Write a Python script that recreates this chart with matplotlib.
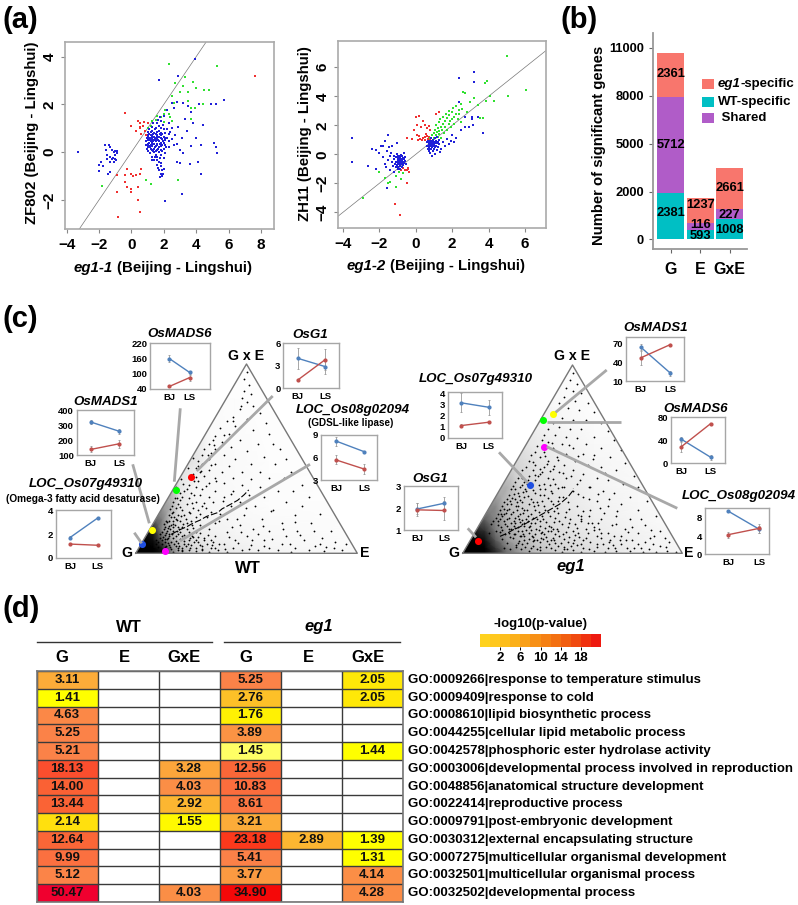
import numpy as np
import matplotlib
matplotlib.use("Agg")
import matplotlib.pyplot as plt
from matplotlib.colors import LinearSegmentedColormap, Normalize, ListedColormap
from matplotlib.patches import Rectangle, Polygon

plt.rcParams['font.family'] = ['Liberation Sans', 'DejaVu Sans']
W, H = 798, 905

# ---------- panel (a) points ----------
a1_blue = [(-3.3,0),(-2,-.55),(-2,-.8),(-1.9,-.4),(-1.75,-.6),(-1.65,.3),(-1.6,.1),(-1.5,-.1),(-1.45,-.9),(-1.4,.3),(-1.3,.2),(-1.3,-.2),(-1.3,-.4),(-1.2,-.3),(-1.2,.1),(-1.1,-.4),(-1.1,0),(-1,-.1),(-1,.05),(-1,-.3),(-.9,-.05),(-.9,.05),(-.95,-.35),(-1.5,-.3),(-1.3,-.85),(-1.15,-.25),
(.9,.3),(.9,.45),(.95,.6),(1,.2),(1,.35),(1,.5),(1,.7),(1,.85),(1.05,.05),(1.1,.25),(1.1,.4),(1.1,.6),(1.1,.75),(1.1,.95),(1.15,-.05),(1.2,.15),(1.2,.3),(1.2,.45),(1.2,.6),(1.2,.7),(1.2,.85),(1.25,1.05),(1.3,-.2),(1.3,.1),(1.3,.25),(1.3,.4),(1.3,.55),(1.3,.7),(1.3,.9),(1.35,1.2),(1.4,-.35),(1.4,0),(1.4,.15),(1.4,.35),(1.4,.5),(1.4,.65),(1.4,.8),(1.45,.95),(1.5,-.1),(1.5,.05),(1.5,.25),(1.5,.45),(1.5,.6),(1.5,.75),(1.5,1),(1.55,1.2),(1.6,-.55),(1.6,-.2),(1.6,.1),(1.6,.3),(1.6,.55),(1.6,.7),(1.6,.85),(1.65,1.35),(1.7,-.75),(1.7,-.4),(1.7,0),(1.7,.2),(1.7,.45),(1.7,.65),(1.7,.9),(1.7,1.1),(1.75,1.45),(1.8,-.9),(1.8,-.6),(1.8,-.1),(1.8,.1),(1.8,.4),(1.8,.6),(1.8,.8),(1.85,1),(1.85,1.3),(1.9,-1),(1.9,-.75),(1.9,.05),(1.9,.3),(1.9,.55),(1.9,.75),(1.95,1.15),(2,-.25),(2,.15),(2,.4),(2,.65),(2,.95),(2,1.5),(2.1,-.05),(2.1,.3),(2.1,.5),(2.1,.8),(2.2,.6),(2.2,.95),(2.2,1.75),(2.3,.2),(2.3,.45),(2.3,.75),(2.3,1.2),(2.4,.85),(2.5,.55),(2.5,1),(2.6,.3),(2.6,1.85),(2.7,.7),(2.8,-.4),(2.8,.35),(2.8,2.1),(2.9,3.2),(2.9,1.05),(3,.1),(3,-.45),(3.1,.6),(3.2,-.05),(3.3,1.4),(3.4,.9),(3.5,1.95),(3.6,-.5),(3.7,1.7),(3.7,.25),(3.8,1.2),(3.9,3.9),(4,.6),(4.1,-.4),(4.2,2),(4.3,-.9),(4.3,.3),(4.4,1.15),(5.1,.4),(5.2,.2),(5.3,-.05),(5.2,2),(5.7,2.2),(1.7,3),(2.1,-2.05),(3.1,-1.75),(4.9,2),(3.2,2.05),(2.5,2.05),
(.95,.15),(1.05,.3),(1.15,.5),(1.25,.35),(1.25,.65),(1.35,.05),(1.35,.45),(1.35,.75),(1.45,.2),(1.45,.55),(1.55,.35),(1.55,.65),(1.65,.15),(1.65,.5),(1.75,.35),(1.75,.75),(1.85,.25),(1.85,.7),(1.95,.45),(2.05,.6),(2.15,.2),(1.55,-.35),(1.65,-.65),(1.75,-.25),(1.85,-.45),(1.45,-.2),(1.25,-.35),(1.15,.2),(1.05,.65),(1.95,-.9),(2.0,-.7),(1.75,-1.05)]
a1_green = [(1,1.0),(1.2,1.1),(1.3,1.3),(1.5,1.35),(1.6,1.5),(1.8,1.45),(2,1.25),(2,1.6),(2.1,1.75),(2.3,1.6),(2.4,1.45),(2.5,1.3),(2.5,2.35),(2.7,2.9),(3,2.5),(3.2,2.75),(3.3,3.15),(3.5,2.5),(3.7,1.85),(3.8,2.95),(4,2.7),(4.5,2.6),(4.8,2.6),(5.3,3.6),(2.3,3.7),(3.5,2.15),(3.7,1.4),(3.9,1.85),(4.4,2),(2.9,-1.15),(1.2,-1.35),(.9,-1.15),(2.1,-2.05),(-1.8,-1.4),(2.6,2.05)]
a1_red = [(-.4,1.65),(0,1.1),(.3,.9),(.4,1.3),(.5,1.2),(.55,1),(.6,.75),(.7,1.1),(.8,1.25),(.85,.9),(1,1.2),(.9,.7),(.55,1.05),(7.6,3.2),(-.3,-.7),(-.4,-.95),(0,-.9),(.1,-1.0),(.3,-.95),(.6,-.7),(.5,-.9),(-.4,-1.25),(-.3,-1.45),(0,-1.55),(0,-1.65),(.4,-1.45),(-.9,-.95),(-.9,-1.65),(.4,-2),(.5,-2.5),(-.8,-2.7)]
a2_blue = [(-3.5,1.15),(-3.5,-.5),(-2.6,-.8),(-2.4,.4),(-2.2,.3),(-2.2,-1),(-2,.1),(-1.9,.6),(-1.8,-.2),(-1.8,.55),(-1.7,.9),(-1.7,-.7),(-1.65,-.9),(-1.6,.2),(-1.6,-2.3),(-1.5,-.4),(-1.5,1.3),(-1.45,.5),(-1.4,-.1),(-1.4,-1.1),(-1.35,.1),(-1.3,-.55),(-1.3,.6),(-1.25,-.8),(-1.2,-.3),(-1.2,-.1),(-1.2,-1.2),(-1.15,-.65),(-1.1,-.9),(-1.1,-.5),(-1.1,-.2),(-1.05,-.75),(-1.05,0),(-1.05,.75),(-1,-1),(-1,-.6),(-1,-.4),(-1,-.25),(-.95,-.85),(-.95,-.5),(-.95,-.1),(-.9,-.7),(-.9,-.55),(-.9,-.35),(-.9,-.15),(-.85,-1),(-.85,-.8),(-.85,-.6),(-.85,-.45),(-.85,-.2),(-.8,-.7),(-.8,-.5),(-.8,-.3),(-.8,-.05),(-.75,-.9),(-.75,-.6),(-.75,-.4),(-.75,-.15),(-.7,-.75),(-.7,-.5),(-.7,-.25),(-.65,-.6),(-.65,-.35),(-.65,.1),(-.6,-.45),(-.6,-.2),(-.55,-.65),
(.6,.6),(.6,.85),(.65,.95),(.65,.4),(.7,.7),(.7,.5),(.7,.25),(.75,.85),(.75,.6),(.75,.35),(.8,.95),(.8,.75),(.8,.55),(.8,.1),(.85,1.1),(.85,.8),(.85,.65),(.85,.4),(.9,.9),(.9,.7),(.9,.5),(.9,-.1),(.95,1),(.95,.75),(.95,.6),(.95,.25),(1,.85),(1,.65),(1,.4),(1.05,1.1),(1.05,.75),(1.05,.5),(1.05,.05),(1.1,.9),(1.1,.6),(1.15,1.2),(1.15,.75),(1.15,.3),(1.2,.85),(1.2,.5),(1.3,1),(1.3,.7),(1.35,.15),(1.4,.4),(1.5,.85),(1.6,.55),(1.7,1.05),(1.8,.7),(1.95,.95),(2,1.3),(2.1,.85),(2.2,1.15),(2.4,3.6),(2.5,1.65),(2.7,2.6),(2.9,1.9),(3.1,2.6),(3.2,5.65),(2.4,5.25),(3.2,5),(3.1,2.4),(3.15,2.05),(3.4,2.6),(3.7,1.45),(2.7,1.9)]
a2_green = [(-2.9,-3),(-2,-1.2),(-1.7,-1.6),(-1.5,-2),(-1.4,-1.9),(-1.1,-2.25),(-1.1,-1.5),(-.9,-1.2),(-.8,-1.7),(-.7,-1.3),(.8,1.1),(.9,1.3),(1,1.5),(1,1.1),(1.05,1.7),(1.1,1.3),(1.1,2),(1.15,1.55),(1.2,1.8),(1.2,1.2),(1.25,2.2),(1.3,1.6),(1.3,1.4),(1.35,2.4),(1.4,1.9),(1.4,1.15),(1.45,1.7),(1.5,2.1),(1.5,2.6),(1.55,1.5),(1.6,2.3),(1.6,1.9),(1.65,2.8),(1.7,2.5),(1.7,1.7),(1.8,2.1),(1.8,3),(1.85,2.7),(1.9,2.3),(1.95,1.9),(2,2.9),(2,2.45),(2.05,3.2),(2.1,2.6),(2.1,2.1),(2.2,2.8),(2.2,3.3),(2.3,2.4),(2.35,3.05),(2.4,2.75),(2.5,2.25),(2.5,3.5),(2.55,3.1),(2.6,4.3),(2.7,4.2),(2.8,2.9),(3,3.6),(3.2,3.9),(3.4,3.4),(3.5,2.5),(3.7,2.5),(3.85,3.7),(3.9,5.05),(4.1,4),(4.3,3.7),(5,6.8),(5.05,4),(6.05,4.4),(3.8,4.9)]
a2_red = [(0,2.6),(.05,2.05),(.2,2.65),(.3,1.9),(.4,2.3),(.5,2),(.6,1.8),(.7,1.95),(.8,1.7),(-.5,1.1),(-.2,1.05),(-.1,1.65),(.05,1.3),(.1,1),(.2,1.25),(.25,1.05),(.35,1),(.4,1.15),(.5,1.2),(.5,1),(.6,1.25),(.65,1.05),(.75,1.2),(.8,1.05),(.55,1.4),(1.1,2.8),(1.3,2.95),(-.9,-1),(-.8,-1.1),(-.7,-.95),(-.6,-1.05),(-.5,-1.1),(-.45,-.95),(-.4,-1),(-.35,-1.2),(-.5,-1.95),(-1.15,-3.4),(-.85,-4.2)]

# ---------- panel (b) ----------
bar_groups = ['G', 'E', 'GxE']
bar_teal = [0.965, 0.20, 0.42]
bar_purple = [2.00, 0.14, 0.21]
bar_red = [0.93, 0.52, 0.87]
lab_teal = ['2381', '593', '1008']
lab_purple = ['5712', '116', '227']
lab_red = ['2361', '1237', '2661']
lab_teal_y = [0.55, 0.06, 0.20]
lab_purple_y = [1.97, 0.30, 0.51]
lab_red_y = [3.46, 0.72, 1.08]
bar_tick_labels = ['0', '2000', '5000', '8000', '11000']

# ---------- panel (c) triangle dots (position in the unit triangle) ----------
wt_dots = [(.5,.96),(.49,.92),(.51,.89),(.49,.86),(.52,.84),(.5,.8),(.48,.82),(.53,.78),(.47,.76),(.56,.74),(.44,.72),(.5,.71),(.41,.7),(.59,.69),(.45,.67),(.38,.66),(.53,.65),(.42,.63),(.36,.62),(.6,.63),(.47,.6),(.35,.6),(.39,.59),(.33,.58),(.55,.58),(.62,.58),(.43,.56),(.36,.55),(.31,.55),(.34,.53),(.5,.54),(.65,.55),(.4,.52),(.3,.52),(.33,.5),(.45,.5),(.58,.51),(.68,.5),(.28,.49),(.36,.47),(.3,.47),(.52,.47),(.42,.46),(.63,.47),(.27,.45),(.33,.44),(.29,.43),(.39,.43),(.48,.43),(.56,.43),(.7,.43),(.26,.42),(.31,.41),(.36,.4),(.44,.4),(.25,.4),(.6,.4),(.52,.39),(.67,.4),(.28,.38),(.33,.37),(.4,.37),(.48,.36),(.75,.36),(.24,.36),(.27,.35),(.56,.35),(.3,.34),(.36,.33),(.44,.33),(.64,.33),(.71,.33),(.22,.33),(.25,.32),(.51,.31),(.29,.31),(.21,.3),(.33,.3),(.4,.3),(.24,.29),(.58,.3),(.78,.3),(.2,.28),(.27,.27),(.35,.27),(.47,.27),(.68,.27),(.23,.26),(.3,.25),(.19,.26),(.43,.25),(.54,.25),(.75,.25),(.18,.24),(.26,.24),(.21,.23),(.34,.22),(.62,.23),(.38,.21),(.24,.22),(.17,.22),(.29,.21),(.19,.2),(.49,.2),(.83,.21),(.72,.2),(.22,.2),(.16,.19),(.27,.19),(.32,.19),(.57,.18),(.41,.18),(.18,.18),(.2,.17),(.25,.17),(.15,.17),(.36,.16),(.66,.16),(.79,.16),(.23,.16),(.29,.15),(.17,.155),(.47,.15),(.13,.14),(.19,.14),(.15,.145),(.21,.14),(.26,.135),(.33,.13),(.53,.13),(.88,.12),(.73,.12),(.6,.12),(.14,.12),(.17,.12),(.12,.115),(.2,.115),(.24,.11),(.41,.11),(.29,.105),(.11,.1),(.15,.1),(.19,.1),(.13,.095),(.22,.095),(.36,.09),(.68,.09),(.84,.08),(.95,.05),(.5,.09),(.26,.085),(.17,.08),(.31,.08),(.11,.08),(.14,.075),(.2,.075),(.24,.07),(.45,.07),(.58,.07),(.76,.07),(.9,.06),(.28,.06),(.13,.06),(.16,.06),(.19,.055),(.35,.06),(.4,.05),(.22,.05),(.25,.045),(.15,.045),(.66,.05),(.52,.045),(.3,.04),(.18,.04),(.81,.04),(.86,.035),(.13,.035),(.21,.03),(.34,.03),(.27,.03),(.44,.03),(.6,.03),(.72,.03),(.16,.025),(.24,.02),(.19,.02),(.3,.015),(.37,.015),(.14,.015),(.48,.015),(.55,.015),(.64,.015),(.78,.015),(.93,.015),(.21,.01),(.27,.01),(.41,.008),(.33,.008),(.7,.008),(.85,.01),(.17,.008),(.12,.02),(.12,.05),(.1,.06),(.09,.07),(.1,.035),(.09,.05),
(.612,.223),(.457,.182),(.393,.277),(.316,.353),(.274,.403),(.232,.338),(.187,.293),(.253,.267),(.318,.241),(.377,.173),(.433,.137),(.552,.102),(.663,.127),(.721,.163),(.804,.118),(.497,.241),(.428,.312),(.361,.383),(.296,.437),(.341,.467),(.263,.307),(.202,.243),(.168,.27),(.163,.213),(.178,.147),(.231,.128),(.273,.113),(.338,.069),(.378,.047),(.423,.084),(.476,.112),(.523,.068),(.574,.142),(.614,.076),(.696,.051),(.742,.098),(.832,.049),(.897,.028),(.191,.028),(.228,.037),(.262,.058),(.297,.022),(.322,.051),(.358,.029),(.403,.023),(.463,.052),(.513,.021),(.577,.038),(.147,.082),(.163,.103),(.207,.092),(.243,.083),(.283,.084),(.133,.076),(.153,.127),(.187,.119),(.213,.157),(.252,.148),(.142,.163),(.127,.127),(.167,.168),(.157,.235),(.198,.318),(.214,.368),(.262,.384),(.283,.461),(.327,.517),(.352,.574),(.398,.624),(.437,.7),(.474,.78),
(.127,.018),(.136,.041),(.148,.057),(.157,.035),(.172,.049),(.184,.067),(.196,.041),(.207,.017),(.218,.064),(.236,.051),(.247,.028),(.256,.093),(.271,.072),(.291,.044),(.308,.068),(.327,.097),(.346,.046),(.118,.068),(.124,.087),(.138,.108),(.152,.091),(.169,.137),(.183,.089),(.196,.128),(.144,.133),(.159,.152),(.174,.193),(.188,.176),(.204,.197),(.229,.182),(.243,.213),(.283,.229),(.309,.267),(.136,.173),(.128,.154),(.149,.203),(.163,.248),(.177,.293),(.183,.352),(.206,.394),(.238,.452),(.258,.501)]
wt_line = [(.16,.1),(.2,.125),(.23,.14),(.26,.16),(.29,.175),(.32,.195),(.37,.215),(.39,.235),(.43,.26),(.46,.28),(.47,.29),(.49,.31),(.51,.335)]
wt_grid_x = [0,.04,.08,.12,.16,.2,.26,.34,.45,.6,1]
wt_grid_y = [0,.03,.07,.12,.18,.25,.35,.5,1]
wt_grid = [[1,1,1,.95,.6,.42,.28,.2,.16,.1,.05],
           [1,1,1,.9,.55,.38,.25,.17,.13,.08,.04],
           [1,1,.95,.72,.45,.3,.2,.14,.1,.06,.03],
           [.9,.95,.9,.55,.36,.24,.16,.11,.08,.05,.02],
           [.7,.7,.7,.58,.32,.2,.12,.08,.06,.04,.02],
           [.5,.5,.5,.5,.42,.18,.1,.07,.05,.03,.02],
           [.4,.4,.4,.4,.4,.18,.08,.06,.04,.03,.01],
           [.2,.2,.2,.2,.2,.2,.2,.06,.04,.02,.01],
           [.01,.01,.01,.01,.01,.01,.01,.01,.01,.01,.01]]
eg_dots = [(.5,.96),(.49,.92),(.52,.9),(.47,.88),(.5,.86),(.54,.85),(.46,.83),(.51,.81),(.44,.8),(.57,.8),(.48,.77),(.53,.76),(.42,.75),(.6,.75),(.45,.72),(.5,.71),(.56,.71),(.41,.69),(.63,.69),(.44,.67),(.39,.66),(.49,.66),(.54,.66),(.66,.65),(.37,.63),(.42,.63),(.6,.62),(.47,.62),(.52,.61),(.36,.6),(.39,.59),(.69,.6),(.45,.58),(.56,.58),(.34,.57),(.41,.56),(.63,.56),(.5,.56),(.33,.54),(.37,.54),(.47,.53),(.72,.55),(.55,.53),(.31,.52),(.43,.51),(.6,.52),(.35,.51),(.67,.51),(.3,.49),(.39,.49),(.51,.49),(.33,.47),(.46,.47),(.74,.48),(.57,.47),(.29,.46),(.37,.46),(.41,.45),(.63,.46),(.27,.44),(.32,.44),(.5,.44),(.7,.44),(.44,.43),(.26,.42),(.35,.42),(.55,.42),(.3,.41),(.39,.4),(.78,.41),(.47,.4),(.25,.4),(.61,.4),(.33,.39),(.66,.39),(.24,.38),(.28,.38),(.42,.37),(.52,.37),(.37,.37),(.73,.37),(.31,.36),(.23,.36),(.26,.35),(.45,.35),(.58,.35),(.35,.34),(.8,.35),(.22,.34),(.29,.33),(.4,.33),(.64,.33),(.5,.33),(.25,.32),(.33,.32),(.21,.31),(.69,.32),(.37,.31),(.28,.3),(.44,.3),(.55,.3),(.76,.3),(.2,.29),(.31,.29),(.24,.29),(.4,.28),(.61,.28),(.84,.28),(.19,.27),(.27,.27),(.34,.27),(.48,.27),(.22,.26),(.3,.26),(.37,.25),(.72,.26),(.18,.25),(.25,.25),(.52,.25),(.66,.25),(.43,.24),(.2,.23),(.28,.23),(.33,.23),(.17,.23),(.58,.23),(.8,.23),(.39,.22),(.23,.22),(.47,.22),(.16,.21),(.26,.21),(.19,.21),(.31,.21),(.88,.2),(.54,.2),(.7,.2),(.36,.2),(.15,.19),(.21,.19),(.24,.19),(.42,.19),(.29,.18),(.17,.18),(.63,.18),(.34,.18),(.49,.18),(.76,.18),(.14,.17),(.19,.17),(.26,.165),(.38,.165),(.22,.16),(.31,.16),(.57,.16),(.13,.155),(.16,.15),(.45,.155),(.83,.15),(.68,.15),(.35,.145),(.28,.145),(.2,.145),(.24,.135),(.52,.135),(.41,.13),(.62,.13),(.9,.12),(.74,.13),(.31,.125),(.18,.125),(.15,.12),(.27,.12),(.36,.115),(.47,.115),(.57,.11),(.66,.11),(.8,.11),(.21,.11),(.12,.11),(.24,.1),(.33,.1),(.42,.1),(.51,.095),(.72,.09),(.87,.09),(.61,.09),(.28,.09),(.38,.085),(.94,.06),(.3,.075),(.46,.075),(.55,.07),(.67,.07),(.77,.07),(.83,.06),(.35,.06),(.42,.055),(.5,.055),(.61,.05),(.72,.05),(.9,.04),(.27,.05),(.32,.04),(.38,.035),(.46,.035),(.55,.03),(.66,.03),(.78,.03),(.85,.025),(.42,.02),(.5,.015),(.6,.012),(.7,.012),(.76,.012),(.93,.012),(.35,.015),(.3,.012),(.45,.008),(.54,.006),(.65,.006),(.82,.006),(.88,.006),(.97,.006),(.25,.2),(.27,.175),(.22,.13),(.3,.14),(.33,.16),(.25,.14),(.26,.09),(.32,.085),(.34,.07),(.37,.1),(.4,.07),(.44,.09),(.48,.06),(.53,.085),(.58,.06),(.63,.08),(.69,.09),(.4,.14),(.44,.17),(.48,.14),(.54,.17),(.6,.14),(.39,.12),(.43,.13),(.5,.12),(.56,.13),
(.623,.243),(.574,.287),(.523,.317),(.463,.353),(.413,.392),(.362,.432),(.318,.487),(.283,.343),(.232,.317),(.353,.308),(.413,.262),(.483,.233),(.538,.183),(.597,.123),(.643,.213),(.698,.158),(.753,.113),(.812,.183),(.857,.123),(.923,.08),(.433,.215),(.376,.228),(.323,.252),(.262,.283),(.217,.277),(.187,.233),(.173,.207),(.233,.173),(.297,.197),(.353,.172),(.417,.164),(.468,.193),(.513,.158),(.562,.082),(.613,.033),(.684,.046),(.742,.071),(.797,.052),(.866,.047),(.927,.033),(.283,.032),(.337,.022),(.393,.052),(.433,.038),(.476,.021),(.522,.042),(.573,.021),(.637,.052),(.692,.027),(.747,.029),(.813,.029),(.243,.043),(.257,.067),(.293,.054),(.318,.063),(.356,.082),(.383,.063),(.412,.083),(.457,.103),(.486,.087),(.527,.109),(.273,.103),(.302,.107),(.347,.123),(.391,.147),(.436,.117),(.483,.161),(.523,.203),(.573,.197),(.618,.161),(.232,.147),(.268,.154),(.297,.173),(.202,.183),(.213,.233),(.243,.253),(.273,.213),(.258,.304),(.293,.37),(.272,.398),(.343,.412),(.398,.437),(.433,.498),(.375,.516),(.406,.587),(.483,.577),(.526,.518),(.593,.501),(.647,.427),
(.188,.028),(.204,.056),(.216,.023),(.229,.081),(.241,.031),(.253,.053),(.267,.024),(.278,.072),(.312,.028),(.326,.068),(.352,.036),(.367,.074),(.403,.027),(.418,.069),(.447,.054),(.463,.021),(.491,.038),(.508,.071),(.537,.052),(.181,.077),(.193,.103),(.214,.089),(.233,.103),(.252,.118),(.266,.091),(.289,.122),(.314,.092),(.332,.128),(.358,.106),(.376,.137),(.403,.117),(.168,.113),(.176,.138),(.193,.157),(.212,.131),(.238,.163),(.257,.184),(.278,.163),(.307,.146),(.322,.188),(.348,.221),(.366,.183),(.398,.199),(.418,.226),(.162,.172),(.178,.197),(.198,.213),(.222,.207),(.247,.228),(.268,.243),(.292,.231),(.318,.274),(.342,.257),(.361,.277),(.387,.294),(.408,.321),(.432,.277),(.457,.298),(.203,.261),(.226,.296),(.247,.274),(.274,.323),(.296,.302),(.322,.337),(.347,.362),(.373,.341),(.398,.363),(.432,.347),(.238,.342),(.268,.362),(.298,.391),(.327,.418),(.353,.447),(.383,.472),(.418,.463),(.456,.427),(.492,.411),(.533,.388),(.574,.352),(.618,.317),(.667,.287),(.703,.226),(.632,.108),(.665,.062),(.716,.071),(.77,.138),(.852,.081),(.589,.163),(.548,.222)]
eg_line = [(.17,.09),(.2,.105),(.23,.125),(.26,.14),(.29,.16),(.32,.18),(.35,.2),(.38,.22),(.41,.24),(.44,.26),(.46,.28),(.48,.3),(.5,.33),(.504,.345)]
eg_grid_x = [0,.05,.1,.15,.2,.26,.34,.45,.6,.8,1]
eg_grid_y = [0,.03,.07,.12,.18,.25,.35,.5,.7,1]
eg_grid = [[1,1,1,.88,.65,.5,.38,.3,.22,.14,.07],
           [1,1,1,.82,.6,.45,.34,.26,.2,.12,.07],
           [1,1,.95,.72,.5,.4,.3,.24,.18,.11,.05],
           [.9,.9,.85,.6,.45,.36,.28,.22,.15,.1,.04],
           [.7,.7,.7,.55,.4,.32,.26,.2,.14,.08,.03],
           [.55,.55,.55,.55,.37,.3,.24,.18,.12,.07,.03],
           [.42,.42,.42,.42,.42,.28,.22,.17,.1,.05,.02],
           [.25,.25,.25,.25,.25,.25,.18,.14,.08,.04,.02],
           [.12,.12,.12,.12,.12,.12,.12,.07,.03,.02,.01],
           [.02,.02,.02,.02,.02,.02,.02,.02,.02,.02,.02]]
wt_marks = {'red': (.248,.405), 'lime': (.182,.335), 'yellow': (.074,.121), '#1f4fe0': (.03,.049), 'magenta': (.132,.014)}
eg_marks = {'yellow': (.413,.742), 'lime': (.364,.706), 'magenta': (.372,.566), '#1f4fe0': (.305,.363), 'red': (.068,.067)}

# insets: blue values, blue errs, red values, red errs
in_names = ['OsMADS6','OsG1','OsMADS1','LOC_Os07g49310','LOC_Os08g02094','OsMADS1','OsMADS6','LOC_Os07g49310','OsG1','LOC_Os08g02094']
in_blue = [[160,105],[4,2.9],[320,258],[1.7,3.35],[8.2,6.8],[64,23],[42,10],[3.15,2.75],[1.97,2.23],[9.5,5.5]]
in_blue_err = [[14,5],[1.4,1],[15,18],[.15,.05],[.6,.05],[5,4],[4,4],[.85,.7],[.25,.28],[.1,.8]]
in_red = [[50,85],[1.1,3.8],[137,175],[1.15,1.05],[5.7,4.5],[47,68],[28,69],[1.1,1.4],[1.93,1.9],[4.3,5.7]]
in_red_err = [[2,12],[.1,1.4],[20,25],[.1,.1],[.6,.6],[11,1],[9,1],[.15,.05],[.3,.45],[.7,1]]
in_ticks = [[40,100,160,220],[0,3,6],[100,200,300,400],[0,2,4],[3,6,9],[10,40,70],[0,40,80],[0,1,2,3,4],[1,2,3],[0,4,8]]

# ---------- panel (d) ----------
go_labels = ['GO:0009266|response to temperature stimulus','GO:0009409|response to cold','GO:0008610|lipid biosynthetic process','GO:0044255|cellular lipid metabolic process','GO:0042578|phosphoric ester hydrolase activity','GO:0003006|developmental process involved in reproduction','GO:0048856|anatomical structure development','GO:0022414|reproductive process','GO:0009791|post-embryonic development','GO:0030312|external encapsulating structure','GO:0007275|multicellular organismal development','GO:0032501|multicellular organismal process','GO:0032502|developmental process']
wt_G = [3.11,1.41,4.63,5.25,5.21,18.13,14.00,13.44,2.14,12.64,9.99,5.12,50.47]
wt_E = [np.nan]*13
wt_GxE = [np.nan,np.nan,np.nan,np.nan,np.nan,3.28,4.03,2.92,1.55,np.nan,np.nan,np.nan,4.03]
eg_G = [5.25,2.76,1.76,3.89,1.45,12.56,10.83,8.61,3.21,23.18,5.41,3.77,34.90]
eg_E = [np.nan]*9+[2.89]+[np.nan]*3
eg_GxE = [2.05,2.05,np.nan,np.nan,1.44,np.nan,np.nan,np.nan,np.nan,1.39,1.31,4.14,4.28]
heat_anchor_vals = [1.3,1.6,2.14,3.0,4.0,5.2,10,13,18,23,35,51]
heat_anchor_cols = ['#FFFF00','#FFF500','#FFDD10','#FCAE38','#FB8E46','#FB8248','#FB7040','#FA6536','#FB4E2E','#FB3A1C','#F50808','#F00030']
cbar_edges = [-2,0,2,4,6,8,10,12,14,16,18,20,22]
cbar_ticks = [2,6,10,14,18]
cbar_cols = ['#FFD21E','#FFC81E','#FDBE1C','#FBB01A','#F9A018','#F79016','#F58014','#F37012','#F15E10','#F04A10','#F0320F','#EE1A10']

fig = plt.figure(figsize=(W/100, H/100), dpi=100)

def axpx(x0, y0, x1, y1, **kw):
    return fig.add_axes([x0/W, 1-y1/H, (x1-x0)/W, (y1-y0)/H], **kw)

def xy(p):
    a = np.array(p, float)
    return a[:, 0], a[:, 1]

ov = axpx(0, 0, W, H, zorder=5)
ov.set_xlim(0, W); ov.set_ylim(H, 0); ov.axis('off'); ov.patch.set_alpha(0)

for t, x, y in [('(a)',2,28),('(b)',560,28),('(c)',3,327),('(d)',2,617)]:
    ov.text(x, y, t, fontsize=21, fontweight='bold', ha='left', va='baseline')

# panel (a)
def scatter_panel(box, xlim, ylim, xticks, yticks, blue, green, red):
    ax = axpx(*box)
    ax.set_xlim(*xlim); ax.set_ylim(*ylim)
    for n, c, pts in [(1,'#F03030',red),(2,'#30E030',green),(3,'#2020D8',blue)]:
        px, py = xy(pts)
        ax.scatter(px, py, s=3.2, c=c, marker='s', linewidths=0, zorder=n+1)
    ax.plot(xlim, xlim, color='#777777', lw=0.5, zorder=1)
    ax.set_xticks(xticks); ax.set_yticks(yticks)
    ax.tick_params(length=3, width=0.8, color='#888888', labelsize=11, pad=3)
    for l in ax.get_xticklabels()+ax.get_yticklabels():
        l.set_fontweight('bold')
    for l in ax.get_yticklabels():
        l.set_rotation(90); l.set_va('center')
    for s in ax.spines.values():
        s.set_color('#AAAAAA'); s.set_linewidth(1.2)
    return ax

scatter_panel((65,42,274,229.3), (-4.1,8.8), (-3.23,4.61), [-4,-2,0,2,4,6,8], [-2,0,2,4], a1_blue, a1_green, a1_red)
scatter_panel((338,40.7,546,228.3), (-4.27,7.15), (-5.1,7.83), [-4,-2,0,2,4,6], [-4,-2,0,2,4,6], a2_blue, a2_green, a2_red)
ov.text(74, 272, 'eg1-1', fontsize=10.8, fontweight='bold', style='italic', va='baseline')
ov.text(117, 272, '(Beijing - Lingshui)', fontsize=10.8, fontweight='bold', va='baseline')
ov.text(347, 270, 'eg1-2', fontsize=10.8, fontweight='bold', style='italic', va='baseline')
ov.text(390, 270, '(Beijing - Lingshui)', fontsize=10.8, fontweight='bold', va='baseline')
ov.text(32, 133, 'ZF802 (Beijing - Lingshui)', fontsize=10.8, fontweight='bold', rotation=90, ha='center', va='center')
ov.text(305, 134, 'ZH11 (Beijing - Lingshui)', fontsize=10.8, fontweight='bold', rotation=90, ha='center', va='center')

# panel (b)
b = axpx(653, 33, 747, 249)
xs = np.arange(3)
b.bar(xs, bar_teal, 0.92, color='#00BFC4')
b.bar(xs, bar_purple, 0.92, bottom=bar_teal, color='#B05CC8')
tops = np.add(bar_teal, bar_purple)
b.bar(xs, bar_red, 0.92, bottom=tops, color='#F8766D')
for i in xs:
    b.text(i, lab_teal_y[i], lab_teal[i], ha='center', va='center', fontsize=9.3, fontweight='bold')
    b.text(i, lab_purple_y[i], lab_purple[i], ha='center', va='center', fontsize=9.3, fontweight='bold')
    b.text(i, lab_red_y[i], lab_red[i], ha='center', va='center', fontsize=9.3, fontweight='bold')
b.set_xlim(-0.6, 2.59)
b.set_ylim(-29/144, (719-98)/144)
b.set_xticks(xs); b.set_xticklabels(bar_groups, fontsize=11.5, fontweight='bold')
b.set_yticks(range(5)); b.set_yticklabels(bar_tick_labels, fontsize=9.3, fontweight='bold')
b.tick_params(length=3, width=0.8, color='#666666')
b.tick_params(axis='x', pad=6)
for s in ['top','right']:
    b.spines[s].set_visible(False)
for s in ['left','bottom']:
    b.spines[s].set_color('#999999'); b.spines[s].set_linewidth(1.3)
ov.text(599, 145, 'Number of significant genes', fontsize=10.7, fontweight='bold', rotation=90, ha='center', va='center')
for y0, col, lab, kw in [(79,'#F8766D','eg1','italic'),(97,'#00BFC4','WT-specific','normal'),(113,'#B05CC8',' Shared','normal')]:
    ov.add_patch(Rectangle((702,y0),12,10,color=col,lw=0))
    ov.text(718, y0+5, lab, fontsize=9.5, fontweight='bold', style=kw, va='center')
ov.text(740.7, 84, '-specific', fontsize=9.5, fontweight='bold', va='center')

# panel (c)
def triangle(box, dots, line, gx, gy, grid):
    ax = axpx(*box)
    ax.set_xlim(0,1); ax.set_ylim(0,1); ax.axis('off'); ax.patch.set_alpha(0)
    mesh = ax.pcolormesh(gx, gy, np.array(grid), cmap='Greys', vmin=0, vmax=1, shading='gouraud')
    mesh.set_clip_path(Polygon([(0,0),(1,0),(.5,1)], closed=True, transform=ax.transData))
    px, py = xy(dots)
    ax.scatter(px, py, s=1.7, c='black', linewidths=0, clip_on=False)
    lx, ly = xy(line)
    ax.plot(lx, ly, color='black', lw=.8, ls=(0,(6,2)))
    ax.plot([0,1,.5,0],[0,0,1,0], color='#777777', lw=1, clip_on=False)
    return ax

tl = triangle((135.7,364,357.3,553.3), wt_dots, wt_line, wt_grid_x, wt_grid_y, wt_grid)
tr = triangle((462.7,365,682.3,553.3), eg_dots, eg_line, eg_grid_x, eg_grid_y, eg_grid)

leaders = [[(180.3,408.3),(174.3,481.7)],[(272.7,396),(196.7,471)],[(132.7,464.3),(149.3,523.3)],[(134.3,532.7),(141.7,543.3)],[(310,464.3),(180,541)],
           [(606.7,370),(555.7,412.3)],[(620.7,421.7),(547.3,421.7)],[(677.3,508.3),(546.7,446.7)],[(499,452.3),(528.3,483.3)],[(467.7,528.3),(476,537.3)]]
for seg in leaders:
    sx, sy = xy(seg)
    ov.plot(sx, sy, color='#A8A8A8', lw=2, solid_capstyle='butt', zorder=2)

for ax, marks in [(tl, wt_marks), (tr, eg_marks)]:
    for c, (mx, my) in marks.items():
        ax.scatter([mx],[my], s=26, c=c, linewidths=0, zorder=6, clip_on=False)

for x, y, s, sz, st in [(246.5,356,'G x E',10.2,'normal'),(127,553,'G',10.2,'normal'),(365,553,'E',10.2,'normal'),(247.5,568,'WT',12,'normal'),
                     (572.3,356,'G x E',10.2,'normal'),(454.3,553,'G',10.2,'normal'),(689,553,'E',10.2,'normal'),(571,566,'eg1',12,'italic')]:
    ov.text(x, y, s, fontsize=sz, fontweight='bold', style=st, ha='center', va='center')

boxes = [(150,343.3,210.3,389),(283.3,343.3,339.3,388.3),(76.7,410,134,455),(55.7,510.3,111.3,557.7),(320.7,435,377.3,480.3),
         (625.7,337.3,684.3,381.3),(670.7,417.3,725.3,463),(448,392.3,501.7,438.3),(404,486.3,457.7,530.3),(705,508.3,769.3,554.3)]
tick_px = [(169.3,189.7),(297.7,325),(90.7,119.3),(70,97.7),(336,364),(640.7,670.3),(681,710.7),(461.3,488.7),(417.3,444.3),(728,759.3)]
ylims = [(40,220),(0,6),(100,400),(0,4),(3,9),(10,79.5),(0,80),(-.05,4.1),(1,3),(0,10.1)]
title_xy = [(180,333.7),(310,335),(106,401.7),(86,484),(353,410),(655.7,328),(696,409.3),(476,379),(430.7,479.3),(739.3,496)]
for i in range(10):
    ax = axpx(*boxes[i])
    a, c = tick_px[i]
    x0, x1 = boxes[i][0], boxes[i][2]
    ax.set_xlim((x0-a)/(c-a), (x1-a)/(c-a))
    ax.set_ylim(*ylims[i])
    ax.errorbar([0,1], in_blue[i], yerr=in_blue_err[i], color='#4F81BD', ecolor='#999999', elinewidth=.6, capsize=1, capthick=.6, lw=1, marker='o', ms=2)
    ax.errorbar([0,1], in_red[i], yerr=in_red_err[i], color='#C0504D', ecolor='#999999', elinewidth=.6, capsize=1, capthick=.6, lw=1, marker='o', ms=2)
    ax.set_xticks([0,1]); ax.set_xticklabels(['BJ','LS'], fontsize=6.8, fontweight='bold')
    ax.set_yticks(in_ticks[i]); ax.set_yticklabels([str(v) for v in in_ticks[i]], fontsize=6.8, fontweight='bold')
    ax.tick_params(length=0, pad=2)
    ax.xaxis.set_tick_params(pad=3)
    for s in ax.spines.values():
        s.set_color('#A6A6A6'); s.set_linewidth(1)
    ov.text(*title_xy[i], in_names[i], fontsize=9.6, fontweight='bold', style='italic', ha='center', va='center')
ov.text(83, 499, '(Omega-3 fatty acid desaturase)', fontsize=7.3, fontweight='bold', ha='center', va='center')
ov.text(351, 423, '(GDSL-like lipase)', fontsize=7.1, fontweight='bold', ha='center', va='center')

# panel (d)
hm = axpx(36.6, 671, 402.5, 902)
matrix = np.array([wt_G, wt_E, wt_GxE, eg_G, eg_E, eg_GxE]).T
lo, hi = heat_anchor_vals[0], heat_anchor_vals[-1]
cm = LinearSegmentedColormap.from_list('heat', [((v-lo)/(hi-lo), c) for v, c in zip(heat_anchor_vals, heat_anchor_cols)])
hm.pcolormesh(np.arange(7), np.arange(14), np.ma.masked_invalid(matrix), cmap=cm, norm=Normalize(lo, hi))
hm.set_xlim(0,6); hm.set_ylim(13,0)
hm.add_patch(Rectangle((3,4),1,1,fc='white',ec='none',alpha=.4))
hm.hlines(range(14), 0, 6, color='#3A3A3A', lw=1)
hm.vlines(range(7), 0, 13, color='#3A3A3A', lw=1)
hm.set_xticks([]); hm.set_yticks([])
for s in hm.spines.values():
    s.set_color('#777777'); s.set_linewidth(1.2)
for r in range(13):
    for c in range(6):
        if not np.isnan(matrix[r,c]):
            hm.text(c+.5, r+.5, f'{matrix[r,c]:.2f}', ha='center', va='center', fontsize=9.5, fontweight='bold', color='#111111')
    hm.text(6.09, r+.5, go_labels[r], ha='left', va='center', fontsize=9.55, fontweight='bold', clip_on=False)
for x, lab in zip([62,124.7,184,245.8,308.4,368], ['G','E','GxE','G','E','GxE']):
    ov.text(x, 657, lab, fontsize=12, fontweight='bold', ha='center', va='center')
ov.text(128.8, 627, 'WT', fontsize=12, fontweight='bold', ha='center', va='center')
ov.text(318.6, 626, 'eg1', fontsize=12, fontweight='bold', style='italic', ha='center', va='center')
ov.plot([37,212],[641.7,641.7], color='#333333', lw=1)
ov.plot([224,400],[641.7,641.7], color='#333333', lw=1)
ov.text(541, 624, '-log10(p-value)', fontsize=9.5, fontweight='bold', ha='center', va='center')

cb = axpx(480, 634, 601, 646.7)
cb.pcolormesh(cbar_edges, [0,1], np.arange(12).reshape(1,12), cmap=ListedColormap(cbar_cols))
cb.set_xlim(-2,22); cb.set_ylim(0,1)
cb.set_yticks([]); cb.set_xticks(cbar_ticks); cb.set_xticklabels([str(v) for v in cbar_ticks], fontsize=9.5, fontweight='bold')
cb.tick_params(length=2, width=.7, pad=2)
for s in cb.spines.values():
    s.set_visible(False)

fig.savefig('out.png', dpi=100)
